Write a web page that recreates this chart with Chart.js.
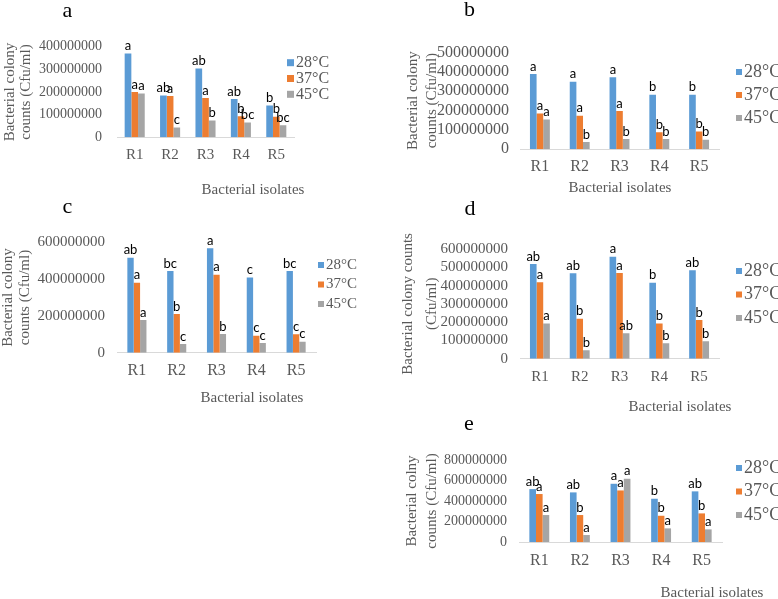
<!DOCTYPE html>
<html><head><meta charset="utf-8">
<script src="https://cdn.jsdelivr.net/npm/chart.js@4.4.1/dist/chart.umd.min.js"></script>
<style>
html,body{margin:0;padding:0;background:#fff;}
#wrap{position:relative;width:778px;height:599px;overflow:hidden;background:#fff;}
canvas{position:absolute;left:0;top:0;}
</style></head><body>
<div id="wrap">
<canvas id="pa" width="778" height="599"></canvas>
<canvas id="pb" width="778" height="599"></canvas>
<canvas id="pc" width="778" height="599"></canvas>
<canvas id="pd" width="778" height="599"></canvas>
<canvas id="pe" width="778" height="599"></canvas>
</div>
<script>
// ---------- data ----------
const categories = ['R1', 'R2', 'R3', 'R4', 'R5'];
const seriesLabels = ['28°C', '37°C', '45°C'];

// Panel a
const a28 = [370000000, 184000000, 304000000, 169000000, 140000000];
const a37 = [200000000, 182000000, 174000000, 93000000, 91000000];
const a45 = [193000000, 43000000, 74000000, 65000000, 53000000];
const aLet28 = ['a', 'ab', 'ab', 'ab', 'b'];
const aLet37 = ['a', 'a', 'a', 'b', 'b'];
const aLet45 = ['a', 'c', 'b', 'bc', 'bc'];

// Panel b
const b28 = [388000000, 348000000, 371000000, 281000000, 281000000];
const b37 = [184000000, 172000000, 197000000, 86000000, 91000000];
const b45 = [153000000, 36000000, 52000000, 52000000, 48000000];
const bLet28 = ['a', 'a', 'a', 'b', 'b'];
const bLet37 = ['a', 'a', 'a', 'b', 'b'];
const bLet45 = ['a', 'b', 'b', 'b', 'b'];

// Panel c
const c28 = [516000000, 444000000, 567000000, 409000000, 444000000];
const c37 = [380000000, 210000000, 424000000, 92000000, 100000000];
const c45 = [178000000, 47000000, 101000000, 53000000, 60000000];
const cLet28 = ['ab', 'bc', 'a', 'c', 'bc'];
const cLet37 = ['a', 'b', 'a', 'c', 'c'];
const cLet45 = ['a', 'c', 'b', 'c', 'c'];

// Panel d
const d28 = [518000000, 467000000, 558000000, 416000000, 484000000];
const d37 = [418000000, 219000000, 469000000, 192000000, 212000000];
const d45 = [193000000, 46000000, 139000000, 84000000, 95000000];
const dLet28 = ['ab', 'ab', 'a', 'b', 'ab'];
const dLet37 = ['a', 'b', 'a', 'b', 'b'];
const dLet45 = ['a', 'b', 'ab', 'b', 'b'];

// Panel e
const e28 = [516000000, 484000000, 568000000, 422000000, 494000000];
const e37 = [468000000, 263000000, 503000000, 256000000, 279000000];
const e45 = [263000000, 68000000, 617000000, 133000000, 123000000];
const eLet28 = ['ab', 'ab', 'a', 'b', 'ab'];
const eLet37 = ['a', 'b', 'a', 'b', 'b'];
const eLet45 = ['a', 'a', 'a', 'a', 'a'];

// axis ranges / titles
const yTitleStd = ['Bacterial colony', 'counts (Cfu/ml)'];
const yTitleD = ['Bacterial colony counts', '(Cfu/ml)'];
const yTitleE = ['Bacterial colny', 'counts (Cfu/ml)'];
const xTitle = 'Bacterial isolates';

// ---------- styles ----------
const COLORS = ['#5B9BD5', '#ED7D31', '#A5A5A5'];
const SERIF = '"Liberation Serif", "Times New Roman", serif';
const GRAY = '#595959';

// ---------- plugins ----------
const barLetters = {
  id: 'barLetters',
  afterDatasetsDraw(chart, args, o) {
    const ctx = chart.ctx;
    ctx.save();
    ctx.font = o.size + 'px Lato, "Open Sans", sans-serif';
    ctx.fillStyle = '#000';
    ctx.textAlign = 'center';
    ctx.textBaseline = 'bottom';
    chart.data.datasets.forEach((ds, i) => {
      const meta = chart.getDatasetMeta(i);
      meta.data.forEach((el, j) => {
        const t = ds.letters && ds.letters[j];
        if (t) ctx.fillText(t, el.x, el.y - 1);
      });
    });
    ctx.restore();
  }
};

const sideLegend = {
  id: 'sideLegend',
  afterDraw(chart, args, o) {
    const ctx = chart.ctx;
    ctx.save();
    ctx.font = o.size + 'px ' + SERIF;
    ctx.textBaseline = 'middle';
    ctx.textAlign = 'left';
    chart.data.datasets.forEach((ds, i) => {
      const y = o.y + i * o.dy;
      ctx.fillStyle = ds.backgroundColor;
      ctx.fillRect(o.x, y - o.box / 2, o.box, o.box);
      ctx.fillStyle = GRAY;
      ctx.fillText(ds.label, o.x + o.box + o.gap, y);
    });
    ctx.restore();
  }
};

const extraText = {
  id: 'extraText',
  afterDraw(chart, args, o) {
    const ctx = chart.ctx;
    ctx.save();
    o.items.forEach(it => {
      ctx.font = it.size + 'px ' + SERIF;
      ctx.fillStyle = it.color;
      ctx.textAlign = 'center';
      ctx.textBaseline = it.baseline;
      ctx.fillText(it.text, it.x, it.y);
    });
    ctx.restore();
  }
};

function makePanel(id, p) {
  const series = [p.v28, p.v37, p.v45];
  const letters = [p.l28, p.l37, p.l45];
  new Chart(document.getElementById(id), {
    type: 'bar',
    data: {
      labels: categories,
      datasets: series.map((v, i) => ({
        label: seriesLabels[i],
        data: v,
        backgroundColor: COLORS[i],
        letters: letters[i],
        categoryPercentage: p.catPct,
        barPercentage: 1,
        borderWidth: 0
      }))
    },
    options: {
      responsive: false,
      animation: false,
      events: [],
      layout: { padding: { left: p.pl, top: p.pt, right: p.pr, bottom: p.pb } },
      scales: {
        x: {
          grid: { display: false, drawTicks: false },
          border: { display: true, color: '#D9D9D9', width: 1 },
          ticks: { font: { family: SERIF, size: p.catSize }, color: GRAY, padding: p.xPad, maxRotation: 0, autoSkip: false },
          afterFit(s) { s.height = 30; }
        },
        y: {
          min: 0,
          max: p.yMax,
          grid: { display: false, drawTicks: false },
          border: { display: false },
          ticks: { stepSize: p.step, autoSkip: false, font: { family: SERIF, size: p.tickSize }, color: GRAY, padding: p.yPad, callback: v => String(v) },
          title: { display: true, text: p.yTitle, font: { family: SERIF, size: p.titleSize, lineHeight: p.titleLH + 'px' }, color: GRAY, padding: { top: 0, bottom: 0 } },
          afterFit(s) { s.width = p.wy; }
        }
      },
      plugins: {
        legend: { display: false },
        tooltip: { enabled: false },
        barLetters: { size: 13 },
        sideLegend: p.legend,
        extraText: { items: [
          { text: p.letter, x: p.letterX, y: p.letterY, size: 22, color: '#000', baseline: 'alphabetic' },
          { text: xTitle, x: p.capX, y: p.capY, size: 15, color: GRAY, baseline: 'middle' }
        ] }
      }
    },
    plugins: [barLetters, sideLegend, extraText]
  });
}

makePanel('pa', {
  v28: a28, v37: a37, v45: a45, l28: aLet28, l37: aLet37, l45: aLet45,
  pl: 2, wy: 115, pt: 46.7, pr: 484, pb: 431.7,
  yMax: 400000000, step: 100000000, tickSize: 14, yPad: 15,
  yTitle: yTitleStd, titleSize: 15, titleLH: 16,
  catSize: 15, xPad: 8.7, catPct: 0.567,
  legend: { x: 287, y: 62.7, dy: 15.8, box: 7, gap: 2, size: 16 },
  letter: 'a', letterX: 67.5, letterY: 16.5, capX: 253, capY: 190
});

makePanel('pb', {
  v28: b28, v37: b37, v45: b45, l28: bLet28, l37: bLet37, l45: bLet45,
  pl: 403.5, wy: 116.5, pt: 52.3, pr: 59, pb: 420,
  yMax: 500000000, step: 100000000, tickSize: 16, yPad: 11,
  yTitle: yTitleStd, titleSize: 15, titleLH: 19,
  catSize: 16, xPad: 8.4, catPct: 0.5,
  legend: { x: 736, y: 72, dy: 23, box: 6, gap: 2, size: 18 },
  letter: 'b', letterX: 469.5, letterY: 16, capX: 620, capY: 188
});

makePanel('pc', {
  v28: c28, v37: c37, v45: c45, l28: cLet28, l37: cLet37, l45: cLet45,
  pl: 0, wy: 117, pt: 242.3, pr: 462, pb: 216.3,
  yMax: 600000000, step: 200000000, tickSize: 15, yPad: 12,
  yTitle: yTitleStd, titleSize: 15, titleLH: 17,
  catSize: 16, xPad: 8.7, catPct: 0.48,
  legend: { x: 318, y: 265, dy: 19.5, box: 6, gap: 2, size: 15 },
  letter: 'c', letterX: 67.5, letterY: 213.3, capX: 252, capY: 398
});

makePanel('pd', {
  v28: d28, v37: d37, v45: d45, l28: dLet28, l37: dLet37, l45: dLet45,
  pl: 396, wy: 124, pt: 249, pr: 59, pb: 210.3,
  yMax: 600000000, step: 100000000, tickSize: 15, yPad: 12,
  yTitle: yTitleD, titleSize: 15, titleLH: 24,
  catSize: 15, xPad: 9, catPct: 0.5,
  legend: { x: 736, y: 271, dy: 23.5, box: 6, gap: 2, size: 18 },
  letter: 'd', letterX: 470, letterY: 215, capX: 680, capY: 407
});

makePanel('pe', {
  v28: e28, v37: e37, v45: e45, l28: eLet28, l37: eLet37, l45: eLet45,
  pl: 402, wy: 117, pt: 460, pr: 56, pb: 27,
  yMax: 800000000, step: 200000000, tickSize: 14, yPad: 12,
  yTitle: yTitleE, titleSize: 15, titleLH: 20,
  catSize: 16, xPad: 9.4, catPct: 0.49,
  legend: { x: 736, y: 468, dy: 23.5, box: 6, gap: 2, size: 18 },
  letter: 'e', letterX: 469, letterY: 430, capX: 712, capY: 593
});
</script>
</body></html>
